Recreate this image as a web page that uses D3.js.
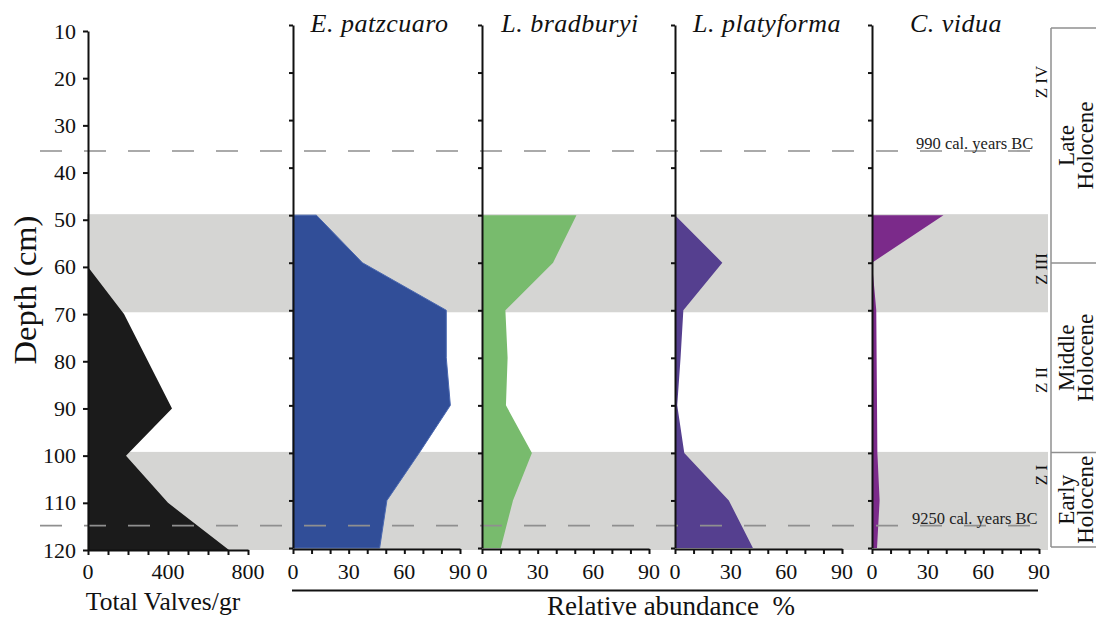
<!DOCTYPE html>
<html>
<head>
<meta charset="utf-8">
<script src="https://cdn.jsdelivr.net/npm/d3@7"></script>
<style>
  body { margin: 0; background: #fff; }
  svg { display: block; }
</style>
</head>
<body>
<svg id="chart" width="1096" height="620"></svg>
<script>
// depth samples (cm)
const depths = [50, 60, 70, 80, 90, 100, 110, 120];
const totalDepths = [60, 70, 80, 90, 100, 110, 120];
const totalValves = [0, 180, 300, 420, 190, 400, 705];

// relative abundance % per species
const patzcuaro = [12.6, 37.4, 82.6, 82.6, 84.8, 68, 50.6, 46.7];
const bradburyi = [50.9, 38.3, 12.6, 13.8, 12.9, 26.9, 16.7, 10.1];
const platyforma = [0, 25.5, 4.5, 3, 1.2, 5, 29, 42];
const vidua = [38.5, 0, 2.3, 2.5, 2.7, 2.9, 4.1, 2.7];

const speciesNames = ["E. patzcuaro", "L. bradburyi", "L. platyforma", "C. vidua"];
const depthTicks = [10, 20, 30, 40, 50, 60, 70, 80, 90, 100, 110, 120];
const totalTicks = [0, 400, 800];
const pctTicks = [0, 30, 60, 90];

// zones and dates
const grayBands = [[50, 70], [100, 120]];
const datedDepths = [36.5, 115.3];
const datedLabels = ["990 cal. years BC", "9250 cal. years BC"];
const zoneNames = ["Z IV", "Z III", "Z II", "Z I"];
const zoneCenters = [82, 269, 380, 475]; // px positions
const epochNames = [["Late", "Holocene"], ["Middle", "Holocene"], ["Early", "Holocene"]];

const FONT = "'Liberation Serif', 'Times New Roman', serif";
const svg = d3.select("#chart");

// depth scales (first panel sits slightly lower than the others)
const yTotal = d3.scaleLinear().domain([10, 120]).range([31, 550]);
const y = d3.scaleLinear().domain([10, 120]).range([25, 548]);

// gray zone bands
svg.selectAll("rect.band")
  .data(grayBands)
  .enter()
  .append("rect")
  .attr("x", 87)
  .attr("width", 1048 - 87)
  .attr("y", (d) => y(d[0]) - 1)
  .attr("height", (d) => y(d[1]) - y(d[0]) + 3)
  .attr("fill", "#d5d5d3");

// panel 1: total valves
const xTotal = d3.scaleLinear().domain([0, 800]).range([88, 248]);
const totalData = totalDepths.map((d, i) => [d, totalValves[i]]);
svg.append("path")
  .datum(totalData)
  .attr("fill", "#1b1b1b")
  .attr("d", d3.area()
    .y((d) => yTotal(d[0]))
    .x0(xTotal(0))
    .x1((d) => xTotal(d[1])));

// species panels
const panelX = [293, 482, 675, 872];
const panelW = 167;
const titleX = [379.5, 570, 767, 956];
const colors = ["#314e98", "#78bb6d", "#553f8f", "#7b2a8a"];
const strokes = ["#4a68b0", "none", "none", "none"];
const series = [patzcuaro, bradburyi, platyforma, vidua];

const xScales = panelX.map((px) => d3.scaleLinear().domain([0, 90]).range([px, px + panelW]));

series.forEach((vals, k) => {
  const xs = xScales[k];
  const data = depths.map((d, i) => [d, vals[i]]);
  svg.append("path")
    .datum(data)
    .attr("fill", colors[k])
    .attr("stroke", strokes[k])
    .attr("stroke-width", 1)
    .attr("d", d3.area()
      .y((d) => y(d[0]))
      .x0(xs(0))
      .x1((d) => xs(d[1])));
});

// dashed date lines
svg.selectAll("line.dated")
  .data(datedDepths)
  .enter()
  .append("line")
  .attr("x1", 40)
  .attr("x2", 1040)
  .attr("y1", (d) => y(d))
  .attr("y2", (d) => y(d))
  .attr("stroke", "#8f8f8f")
  .attr("stroke-width", 1.6)
  .attr("stroke-dasharray", "22,22");

svg.selectAll("text.dated")
  .data(datedLabels)
  .enter()
  .append("text")
  .attr("x", (d, i) => (i === 0 ? 916 : 912))
  .attr("y", (d, i) => y(datedDepths[i]) - 2)
  .attr("font-size", 16.5)
  .attr("fill", "#222")
  .text((d) => d);

// axes
const axisStyle = (g) => {
  g.selectAll("path.domain").attr("stroke", "#111").attr("stroke-width", 2);
  g.selectAll(".tick line").attr("stroke", "#111").attr("stroke-width", 2);
};

// depth axis of panel 1
svg.append("g")
  .attr("transform", "translate(88,0)")
  .call(d3.axisLeft(yTotal).tickValues(depthTicks).tickSize(5).tickSizeOuter(0).tickPadding(7))
  .call(axisStyle)
  .call((g) => g.selectAll("text").attr("font-size", 22).attr("fill", "#111"));

// total valves x axis
svg.append("g")
  .attr("transform", `translate(0,${yTotal(120)})`)
  .call(d3.axisBottom(xTotal).ticks(8).tickSize(5).tickSizeOuter(0).tickFormat(() => ""))
  .call(axisStyle);
svg.append("g")
  .selectAll("text")
  .data(totalTicks)
  .enter()
  .append("text")
  .attr("x", (d) => xTotal(d))
  .attr("y", 579)
  .attr("text-anchor", "middle")
  .attr("font-size", 22)
  .attr("fill", "#111")
  .text((d) => d);

svg.append("text")
  .attr("x", 163)
  .attr("y", 610)
  .attr("text-anchor", "middle")
  .attr("font-size", 25.5)
  .attr("fill", "#111")
  .text("Total Valves/gr");

svg.append("text")
  .attr("transform", "translate(36,290) rotate(-90)")
  .attr("text-anchor", "middle")
  .attr("font-size", 32.5)
  .attr("fill", "#111")
  .text("Depth (cm)");

// species axes
xScales.forEach((xs, k) => {
  svg.append("g")
    .attr("transform", `translate(${panelX[k]},0)`)
    .call(d3.axisLeft(y).tickValues(depthTicks).tickSize(4).tickSizeOuter(0).tickFormat(() => ""))
    .call(axisStyle);

  svg.append("g")
    .attr("transform", `translate(0,${y(120) + 1})`)
    .call(d3.axisBottom(xs).ticks(9).tickSize(5).tickSizeOuter(0).tickFormat(() => ""))
    .call(axisStyle);

  svg.append("g")
    .selectAll("text")
    .data(pctTicks)
    .enter()
    .append("text")
    .attr("x", (d) => xs(d))
    .attr("y", 579)
    .attr("text-anchor", "middle")
    .attr("font-size", 22)
    .attr("fill", "#111")
    .text((d) => d);

  svg.append("text")
    .attr("x", titleX[k])
    .attr("y", 32)
    .attr("text-anchor", "middle")
    .attr("font-size", 26)
    .attr("letter-spacing", 0.5)
    .attr("font-style", "italic")
    .attr("fill", "#111")
    .text(speciesNames[k]);
});

// relative abundance label
svg.append("line")
  .attr("x1", 292)
  .attr("x2", 1038)
  .attr("y1", 590.5)
  .attr("y2", 590.5)
  .attr("stroke", "#111")
  .attr("stroke-width", 2);

svg.append("text")
  .attr("x", 671)
  .attr("y", 615)
  .attr("text-anchor", "middle")
  .attr("font-size", 27)
  .attr("fill", "#111")
  .attr("xml:space", "preserve")
  .text("Relative abundance  %");

// zone labels
svg.selectAll("text.zone")
  .data(zoneNames)
  .enter()
  .append("text")
  .attr("transform", (d, i) => `translate(1047,${zoneCenters[i]}) rotate(-90)`)
  .attr("text-anchor", "middle")
  .attr("font-size", 17)
  .attr("fill", "#111")
  .text((d) => d);

// epoch boxes
const epochBounds = [28, 263, 452.5, 547];
svg.append("line")
  .attr("x1", 1051).attr("x2", 1051)
  .attr("y1", epochBounds[0]).attr("y2", epochBounds[3])
  .attr("stroke", "#8f8f8f").attr("stroke-width", 1.5);
svg.selectAll("line.epoch")
  .data(epochBounds)
  .enter()
  .append("line")
  .attr("x1", 1051).attr("x2", 1096)
  .attr("y1", (d) => d).attr("y2", (d) => d)
  .attr("stroke", "#8f8f8f").attr("stroke-width", 1.5);

epochNames.forEach((lines, i) => {
  const cy = (epochBounds[i] + epochBounds[i + 1]) / 2;
  const t = svg.append("text")
    .attr("transform", `translate(1076,${cy}) rotate(-90)`)
    .attr("text-anchor", "middle")
    .attr("font-size", 23)
    .attr("fill", "#111");
  lines.forEach((ln, j) => {
    t.append("tspan")
      .attr("x", 0)
      .attr("dy", j === 0 ? -2 : 18.5)
      .text(ln);
  });
});

// serif type everywhere, including the axis groups d3 tags as sans-serif
svg.selectAll("g").attr("font-family", FONT);
svg.selectAll("text").attr("font-family", FONT);
</script>
</body>
</html>
